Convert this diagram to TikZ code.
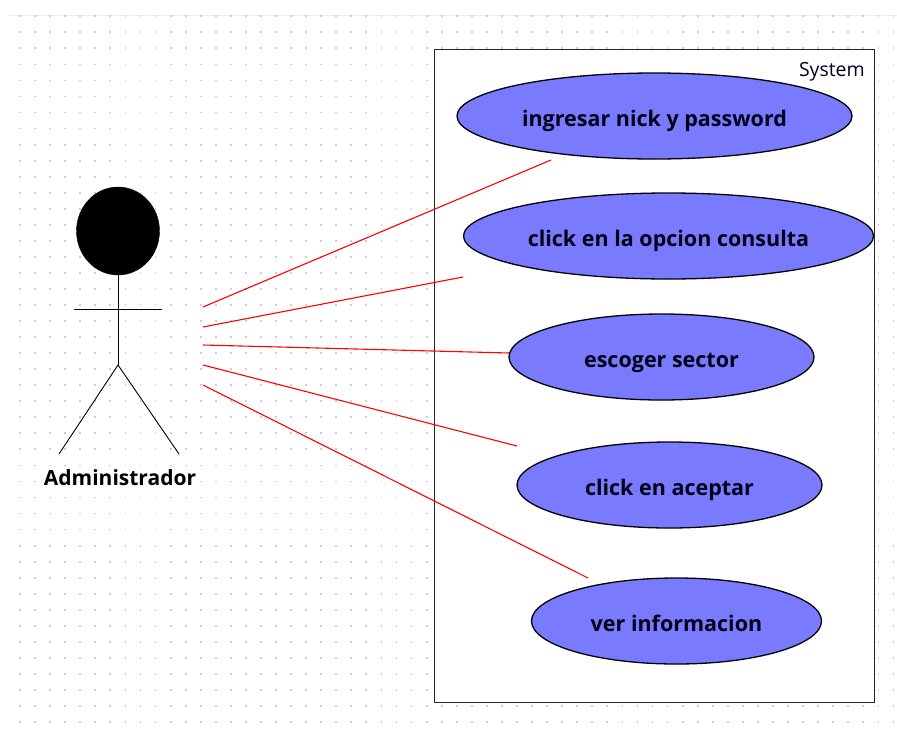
\documentclass[tikz,border=0pt]{standalone}
\usepackage{fontspec}
\setmainfont{Open Sans}
\definecolor{uc}{RGB}{122,122,255}
\definecolor{griddot}{RGB}{205,205,205}
\usetikzlibrary{shapes.geometric}
\tikzset{
  usecase/.style={ellipse,draw=black,line width=1.3pt,fill=uc,inner sep=0pt,text height=20pt,text depth=0pt,font=\bfseries\fontsize{21.5}{24}\selectfont,text=black!90!blue},
  assoc/.style={draw=red,line width=1.1pt},
  actorline/.style={draw=black,line width=0.9pt}
}
\begin{document}
\begin{tikzpicture}[x=1pt,y=-1pt]
\useasboundingbox (0,0) rectangle (897,734);
\fill[white] (0,0) rectangle (897,734);
\draw[black!7,line width=1pt] (8,15) -- (897,15);
\foreach \i in {0,...,58}{\foreach \j in {0,...,44}{
  \fill[griddot] ({20+15.06*\i-0.9},{16.3+16.04*\j-0.9}) rectangle ++(1.8,1.8);
}}
\node[draw=black!85,fill=white,line width=1.8pt,minimum width=440pt,minimum height=653pt,inner sep=0pt,anchor=north west] (sys) at (433.5,48.5) {};
\node[anchor=north east,inner sep=0pt,font=\fontsize{19.5}{22}\selectfont,text=black!85!blue] (syslabel) at (865,62.5) {System};
\node[usecase,minimum width=395pt,minimum height=86pt] (u1) at (654.5,116) {ingresar nick y password};
\node[usecase,minimum width=410pt,minimum height=86pt] (u2) at (668.5,236) {click en la opcion consulta};
\node[usecase,minimum width=305pt,minimum height=86pt] (u3) at (661.5,357) {escoger sector};
\node[usecase,minimum width=305pt,minimum height=86pt] (u4) at (669.5,485) {click en aceptar};
\node[usecase,minimum width=290pt,minimum height=86pt] (u5) at (676.5,621) {ver informacion};
% actor
\node[ellipse,fill=black,draw=black,minimum width=83pt,minimum height=88pt,inner sep=0pt] (head) at (118,231) {};
\coordinate (hip) at (118,365);
\coordinate (armL) at (74,309);
\coordinate (armR) at (162,309);
\coordinate (footL) at (59,454);
\coordinate (footR) at (179,454);
\draw[actorline] (head.south) -- (hip);
\draw[actorline] (armL) -- (armR);
\draw[actorline] (footL) -- (hip) -- (footR);
\node[font=\bfseries\fontsize{21}{24}\selectfont,text=black,inner sep=0pt] (admin) at (120,478) {Administrador};
% associations
\coordinate (a1) at (203,307); \coordinate (b1) at (551,160);
\coordinate (a2) at (203,327); \coordinate (b2) at (463,277);
\coordinate (a3) at (203,345); \coordinate (b3) at (509,353);
\coordinate (a4) at (203,365); \coordinate (b4) at (517,446);
\coordinate (a5) at (203,385); \coordinate (b5) at (588,578);
\draw[assoc] (a1) -- (b1);
\draw[assoc] (a2) -- (b2);
\draw[assoc] (a3) -- (b3);
\draw[assoc] (a4) -- (b4);
\draw[assoc] (a5) -- (b5);
\end{tikzpicture}
\end{document}
